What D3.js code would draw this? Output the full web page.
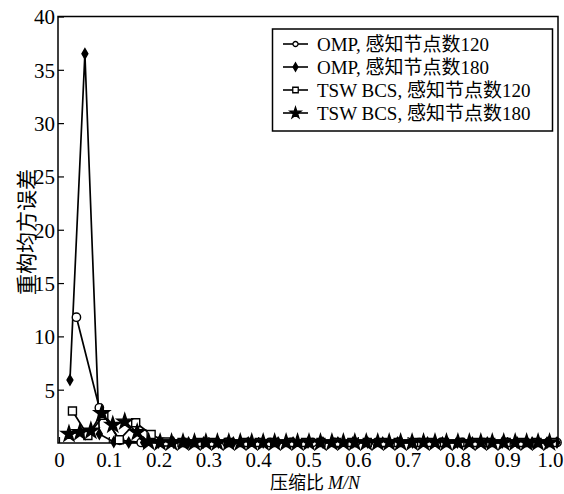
<!DOCTYPE html>
<html><head><meta charset="utf-8">
<script src="https://cdn.jsdelivr.net/npm/d3@7"></script>
<style>
html,body{margin:0;padding:0;background:#fff;}
svg{display:block;}
text{font-family:"Liberation Serif","Noto Sans CJK SC",serif;fill:#000;}
</style></head>
<body>
<svg id="c" width="564" height="494"></svg>
<script>
// ---- data ----
const xTicks = [0, 0.1, 0.2, 0.3, 0.4, 0.5, 0.6, 0.7, 0.8, 0.9, 1.0];
const xTickLabels = ["0","0.1","0.2","0.3","0.4","0.5","0.6","0.7","0.8","0.9","1.0"];
const yTicks = [5, 10, 15, 20, 25, 30, 35, 40];
const seriesNames = ["OMP, 感知节点数120","OMP, 感知节点数180","TSW BCS, 感知节点数120","TSW BCS, 感知节点数180"];

const omp120 = [[0.035,11.8],[0.081,3.3],[0.122,0.25],[0.165,0.05],[0.208,0.05],[0.251,0.05],[0.294,0.05],[0.337,0.05],[0.380,0.05],[0.423,0.05],[0.466,0.05],[0.509,0.05],[0.552,0.05],[0.595,0.05],[0.638,0.05],[0.681,0.05],[0.724,0.05],[0.767,0.05],[0.810,0.05],[0.853,0.05],[0.896,0.05],[0.939,0.05],[0.982,0.05],[1.0,0.05]];
const omp180 = [[0.022,5.9],[0.052,36.5],[0.081,0.85],[0.110,0.1],[0.140,0.05],[0.170,0.05],[0.200,0.05],[0.230,0.05],[0.260,0.05],[0.290,0.05],[0.320,0.05],[0.350,0.05],[0.380,0.05],[0.410,0.05],[0.440,0.05],[0.470,0.05],[0.500,0.05],[0.530,0.05],[0.560,0.05],[0.590,0.05],[0.620,0.05],[0.650,0.05],[0.680,0.05],[0.710,0.05],[0.740,0.05],[0.770,0.05],[0.800,0.05],[0.830,0.05],[0.860,0.05],[0.890,0.05],[0.920,0.05],[0.950,0.05],[0.980,0.05],[1.0,0.05]];
const tsw120 = [[0.027,3.0],[0.058,0.7],[0.090,2.6],[0.121,0.3],[0.154,1.9],[0.185,0.8],[0.216,0.1],[0.247,0.05],[0.278,0.05],[0.309,0.05],[0.340,0.05],[0.371,0.05],[0.402,0.05],[0.433,0.05],[0.464,0.05],[0.495,0.05],[0.526,0.05],[0.557,0.05],[0.588,0.05],[0.619,0.05],[0.650,0.05],[0.681,0.05],[0.712,0.05],[0.743,0.05],[0.774,0.05],[0.805,0.05],[0.836,0.05],[0.867,0.05],[0.898,0.05],[0.929,0.05],[0.960,0.05],[0.991,0.05]];
const tsw180 = [[0.020,0.85],[0.042,1.0],[0.064,1.15],[0.086,2.8],[0.108,1.7],[0.132,2.0],[0.157,1.0],[0.180,0.1],[0.203,0.05],[0.226,0.05],[0.249,0.05],[0.272,0.05],[0.295,0.05],[0.318,0.05],[0.341,0.05],[0.364,0.05],[0.387,0.05],[0.410,0.05],[0.433,0.05],[0.456,0.05],[0.479,0.05],[0.502,0.05],[0.525,0.05],[0.548,0.05],[0.571,0.05],[0.594,0.05],[0.617,0.05],[0.640,0.05],[0.663,0.05],[0.686,0.05],[0.709,0.05],[0.732,0.05],[0.755,0.05],[0.778,0.05],[0.801,0.05],[0.824,0.05],[0.847,0.05],[0.870,0.05],[0.893,0.05],[0.916,0.05],[0.939,0.05],[0.962,0.05],[0.985,0.05]];

// ---- layout ----
const svg = d3.select("#c");
const L = 58, R = 558, T = 16.5, B = 443;
const x = d3.scaleLinear().domain([0, 1]).range([59, 557]);
const y = d3.scaleLinear().domain([0, 40]).range([B, T]);

// frame
svg.append("rect").attr("x", L).attr("y", T).attr("width", R - L).attr("height", B - T)
  .attr("fill", "none").attr("stroke", "#000").attr("stroke-width", 1.5);

// y axis
const yAxis = d3.axisLeft(y).tickValues(yTicks).tickSize(-6).tickPadding(3).tickFormat(d3.format("d"));
const gy = svg.append("g").attr("transform", `translate(${L},0)`).call(yAxis);
gy.select(".domain").remove();
gy.selectAll("line").attr("stroke", "#000").attr("stroke-width", 1.2);
gy.selectAll("text").attr("font-size", 21).attr("font-family", "Liberation Serif").attr("dy", "0.35em");

// x axis
const xAxis = d3.axisBottom(x).tickValues(xTicks).tickSize(-6).tickPadding(9)
  .tickFormat((d, i) => xTickLabels[i]);
const gx = svg.append("g").attr("transform", `translate(0,${B})`).call(xAxis);
gx.select(".domain").remove();
gx.selectAll("line").attr("stroke", "#000").attr("stroke-width", 1.2);
gx.selectAll("text").attr("font-size", 21).attr("font-family", "Liberation Serif").attr("dy", "0.71em");
gx.selectAll("text").filter(d => d === 1.0).attr("text-anchor", "end").attr("x", 563 - x(1.0));

// axis titles
const xt = svg.append("text").attr("x", 315).attr("y", 489).attr("text-anchor", "middle").attr("font-size", 18);
xt.append("tspan").attr("font-family", "Noto Sans CJK SC").text("压缩比 ");
xt.append("tspan").attr("font-style", "italic").text("M/N");
svg.append("text").attr("transform", "translate(27,232) rotate(-90)").attr("text-anchor", "middle")
  .attr("dy", "0.35em").attr("font-size", 21).attr("font-family", "Noto Sans CJK SC").text("重构均方误差");

// ---- series ----
const line = d3.line().x(d => x(d[0])).y(d => y(d[1]));
const styles = [
  {data: omp120, sym: d3.symbolCircle, size: 55, fill: "#fff"},
  {data: omp180, sym: d3.symbolDiamond, size: 30, fill: "#000"},
  {data: tsw120, sym: d3.symbolSquare, size: 64, fill: "#fff"},
  {data: tsw180, sym: d3.symbolStar, size: 75, fill: "#000"}
];
const plot = svg.append("g");
styles.forEach(s => {
  plot.append("path").datum(s.data).attr("d", line).attr("fill", "none")
    .attr("stroke", "#000").attr("stroke-width", 1.7);
});
styles.forEach(s => {
  plot.selectAll(null).data(s.data).enter().append("path")
    .attr("d", d3.symbol().type(s.sym).size(s.size))
    .attr("transform", d => `translate(${x(d[0])},${y(d[1])})`)
    .attr("fill", s.fill).attr("stroke", "#000").attr("stroke-width", 1.4);
});

// ---- legend ----
const lg = svg.append("g");
lg.append("rect").attr("x", 272.5).attr("y", 29).attr("width", 280).attr("height", 102)
  .attr("fill", "#fff").attr("stroke", "#000").attr("stroke-width", 1.5);
const legSizes = [20, 20, 30, 38];
seriesNames.forEach((name, i) => {
  const cy = 44 + i * 23;
  lg.append("line").attr("x1", 283).attr("x2", 308).attr("y1", cy).attr("y2", cy)
    .attr("stroke", "#000").attr("stroke-width", 1.6);
  lg.append("path").attr("d", d3.symbol().type(styles[i].sym).size(legSizes[i]))
    .attr("transform", `translate(295.5,${cy})`)
    .attr("fill", styles[i].fill).attr("stroke", "#000").attr("stroke-width", 1.3);
  lg.append("text").attr("x", 317).attr("y", cy).attr("dy", "0.35em").attr("font-size", 19).text(name);
});
</script>
</body></html>
